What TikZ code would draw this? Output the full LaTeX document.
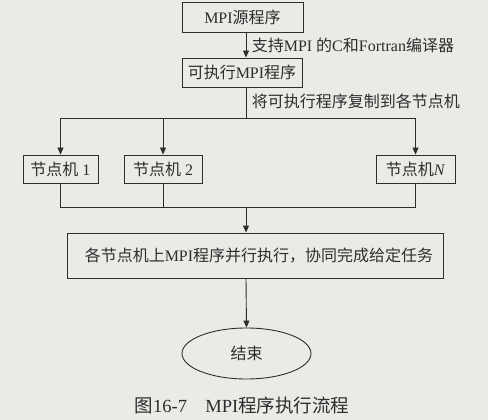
\documentclass[tikz,border=0pt]{standalone}
\usepackage{fontspec}
\setmainfont{Liberation Serif}
\newfontfamily\cjk{Noto Sans CJK SC}
\usepackage{tikz}
\usetikzlibrary{%
  arrows.meta,
  calc,
  shapes.geometric
}
\newcommand{\zh}[1]{{\cjk #1}}
\definecolor{paper}{RGB}{234,234,231}
\definecolor{ink}{RGB}{45,45,45}
\tikzset{
  flow/.style={draw=ink, line width=0.9pt, text=ink,
    font=\fontsize{16}{19}\selectfont, inner sep=2pt},
  conn/.style={draw=ink, line width=0.9pt},
  tip/.style={conn, -{Triangle[length=7pt, width=6pt]}},
}

\begin{document}
\begin{tikzpicture}[x=1pt, y=-1pt]
    \useasboundingbox (0,0) rectangle (488,420) ;
    \fill [paper] (0,0) rectangle (488,420) ;

    \node [flow, minimum width=121pt, minimum height=30pt] (src)
          at (242.50, 17.00) {MPI\zh{源程序}} ;
    \node [flow, minimum width=120pt, minimum height=29pt] (exe)
          at (242.00, 72.50) {\zh{可执行}MPI\zh{程序}} ;

    \node [flow, minimum width=75pt, minimum height=28pt] (n1)
          at ( 60.50,169.00) {\zh{节点机} 1} ;
    \node [flow, minimum width=78pt, minimum height=28pt] (n2)
          at (163.00,169.00) {\zh{节点机} 2} ;
    \node [flow, minimum width=79pt, minimum height=28pt] (nN)
          at (415.50,169.00) {\zh{节点机}\textit{N}} ;

    \node [flow, minimum width=376pt, minimum height=45pt] (par)
          at (255.00,255.50)
          {\hspace{8pt}\zh{各节点机上}MPI\zh{程序并行执行，协同完成给定任务}} ;
    \node [flow, ellipse, minimum width=129pt, minimum height=51pt] (end)
          at (246.50,353.50) {\zh{结束}} ;

    \coordinate (trunk) at (246.00,  0.00) ;
    \coordinate (split) at (246.00,118.00) ;
    \coordinate (join)  at (246.00,207.00) ;

    \draw [tip] (src.south -| trunk) -- (exe.north -| trunk)
          node [midway, right, xshift=2pt, text=ink,
                font=\fontsize{16}{19}\selectfont]
          {\zh{支持}MPI \zh{的}C\zh{和}Fortran\zh{编译器}} ;
    \draw [conn] (exe.south -| trunk) -- (split)
          node [pos=0.45, right, xshift=2pt, text=ink,
                font=\fontsize{16}{19}\selectfont]
          {\zh{将可执行程序复制到各节点机}} ;

    \draw [conn] (split -| n1) -- (split -| nN) ;
    \draw [tip] (split -| n1) -- (n1.north) ;
    \draw [tip] (split -| n2) -- (n2.north) ;
    \draw [tip] (split -| nN) -- (nN.north) ;

    \draw [conn] (n1.south) -- (join -| n1) -- (join -| nN) -- (nN.south) ;
    \draw [conn] (n2.south) -- (join -| n2) ;
    \draw [tip] (join) -- (par.north -| trunk) ;
    \draw [tip] (par.south -| trunk) -- (end.north) ;

    \node [text=ink, font=\fontsize{18.5}{22}\selectfont] (cap)
          at (242.00,405.00) {\zh{图}16-7\hspace{1em}MPI\zh{程序执行流程}} ;
\end{tikzpicture}
\end{document}
